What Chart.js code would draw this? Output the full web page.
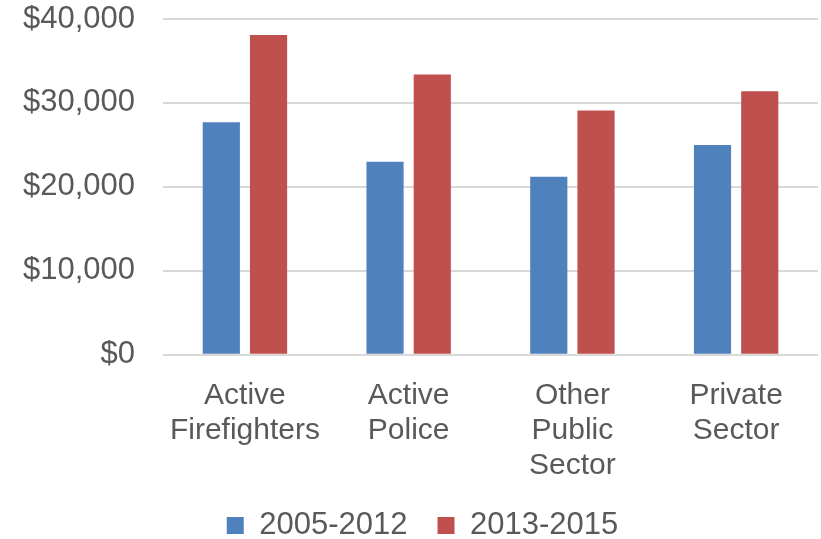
<!DOCTYPE html>
<html>
<head>
<meta charset="utf-8">
<script src="https://cdn.jsdelivr.net/npm/chart.js@4"></script>
<style>
  html, body { margin: 0; padding: 0; background: #fff; }
  #wrap { width: 821px; height: 539px; }
</style>
</head>
<body>
<div id="wrap"><canvas id="myChart" width="821" height="539"></canvas></div>
<script>
const labels = [
  ['Active', 'Firefighters'],
  ['Active', 'Police'],
  ['Other', 'Public', 'Sector'],
  ['Private', 'Sector'],
];

const series2005 = [27700, 23000, 21200, 25000];
const series2013 = [38100, 33400, 29100, 31400];

const fontFamily = '"Liberation Sans", Arial, sans-serif';
const textColor = '#595959';

const data = {
  labels: labels,
  datasets: [{
    label: '2005-2012',
    backgroundColor: '#4F81BD',
    borderColor: '#4F81BD',
    data: series2005,
  }, {
    label: '2013-2015',
    backgroundColor: '#C0504D',
    borderColor: '#C0504D',
    data: series2013,
  }]
};

// nudge the legend a bit to the right, like the original
const legendShift = {
  id: 'legendShift',
  afterLayout(chart) {
    if (chart.legend) {
      chart.legend.left += 16;
      chart.legend.right += 16;
    }
  }
};

const config = {
  type: 'bar',
  data: data,
  plugins: [legendShift],
  options: {
    responsive: false,
    animation: false,
    categoryPercentage: 0.577,
    barPercentage: 0.787,
    layout: { padding: { top: 19, right: 3, left: -5, bottom: -12 } },
    plugins: {
      legend: {
        position: 'bottom',
        labels: {
          color: textColor,
          font: { family: fontFamily, size: 31 },
          boxWidth: 17,
          boxHeight: 17,
          padding: 30,
        }
      },
      tooltip: { enabled: false },
    },
    scales: {
      x: {
        grid: { display: false },
        border: { display: false },
        ticks: {
          color: textColor,
          font: { family: fontFamily, size: 30, lineHeight: 1.17 },
          maxRotation: 0,
          padding: 15,
        },
        // labels stay put, legend may sit a little closer
        afterFit: s => { s.height -= 18; },
      },
      y: {
        min: 0,
        max: 40000,
        grid: { color: '#D9D9D9', lineWidth: 2, drawTicks: false },
        border: { display: false },
        ticks: {
          stepSize: 10000,
          color: textColor,
          font: { family: fontFamily, size: 31 },
          padding: 28,
          callback: v => '$' + v.toLocaleString('en-US'),
        },
        // tick padding otherwise pushes the top gridline down
        afterFit: s => { s.paddingTop = 0; s.paddingBottom = 0; },
      }
    }
  }
};

const myChart = new Chart(document.getElementById('myChart'), config);
</script>
</body>
</html>
